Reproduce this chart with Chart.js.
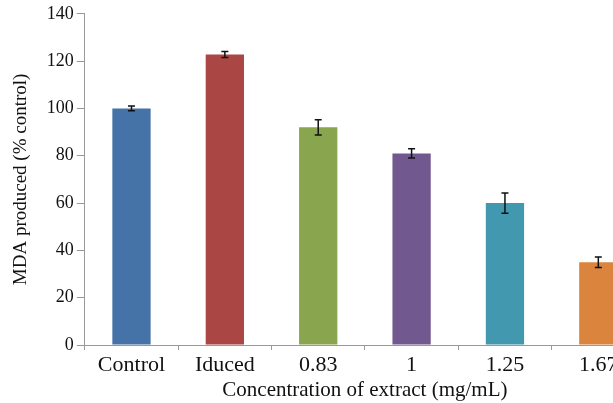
<!DOCTYPE html>
<html>
<head>
<meta charset="utf-8">
<script src="https://cdn.jsdelivr.net/npm/chart.js@4"></script>
<style>
  body { margin: 0; overflow: hidden; background: #fff; }
  #wrap { width: 662px; height: 403px; position: relative; }
</style>
</head>
<body>
<div id="wrap"><canvas id="mdaBar"></canvas></div>
<script>
// -------- data -------- //
var categories = ['Control', 'Iduced', '0.83', '1', '1.25', '1.67'];
var mdaValues = [100, 122.8, 92, 81, 60, 35];
var mdaErrors = [1, 1.3, 3.2, 2, 4.3, 2.2];
var yTicks = [0, 20, 40, 60, 80, 100, 120, 140];
var barColors = ['#4572A7', '#AA4643', '#89A54E', '#71588F', '#4198AF', '#DB843D'];

var serif = '"Liberation Serif", "Times New Roman", serif';

// error bars drawn through the y scale
var errorBars = {
    id: 'errorBars',
    afterDatasetsDraw: function (chart) {
        var ctx = chart.ctx;
        var yScale = chart.scales.y;
        var meta = chart.getDatasetMeta(0);
        ctx.save();
        ctx.strokeStyle = '#111';
        ctx.lineWidth = 1.5;
        meta.data.forEach(function (bar, i) {
            var v = mdaValues[i], e = mdaErrors[i];
            var top = yScale.getPixelForValue(v + e);
            var bot = yScale.getPixelForValue(v - e);
            var x = bar.x;
            ctx.beginPath();
            ctx.moveTo(x, top); ctx.lineTo(x, bot);
            ctx.moveTo(x - 3.5, top); ctx.lineTo(x + 3.5, top);
            ctx.moveTo(x - 3.5, bot); ctx.lineTo(x + 3.5, bot);
            ctx.stroke();
        });
        ctx.restore();
    }
};

var ctx1 = document.getElementById('mdaBar').getContext('2d');

new Chart(ctx1, {
    type: 'bar',
    data: {
        labels: categories,
        datasets: [{
            data: mdaValues,
            backgroundColor: barColors,
            categoryPercentage: 1,
            barPercentage: 0.41
        }]
    },
    plugins: [errorBars],
    options: {
        responsive: true,
        maintainAspectRatio: false,
        animation: false,
        layout: { padding: { top: 10, right: 17, bottom: 2, left: 10 } },
        plugins: {
            legend: { display: false },
            tooltip: { enabled: false }
        },
        scales: {
            x: {
                grid: { drawOnChartArea: false, drawTicks: true, tickLength: 5, color: '#999' },
                border: { color: '#999' },
                ticks: { color: '#111', padding: 4, font: { family: serif, size: 22, lineHeight: 1 } },
                title: {
                    display: true,
                    text: 'Concentration of extract (mg/mL)',
                    color: '#111',
                    padding: { top: 0, bottom: 0 },
                    font: { family: serif, size: 21, lineHeight: 1 }
                }
            },
            y: {
                min: 0,
                max: 140,
                afterBuildTicks: function (axis) {
                    axis.ticks = yTicks.map(function (v) { return { value: v }; });
                },
                grid: { drawOnChartArea: false, drawTicks: true, tickLength: 8, color: '#999' },
                border: { color: '#999' },
                ticks: { color: '#111', padding: 3, font: { family: serif, size: 18 } },
                title: {
                    display: true,
                    text: 'MDA produced (% control)',
                    color: '#111',
                    padding: { top: 0, bottom: 11 },
                    font: { family: serif, size: 19 }
                }
            }
        }
    }
});
</script>
</body>
</html>
